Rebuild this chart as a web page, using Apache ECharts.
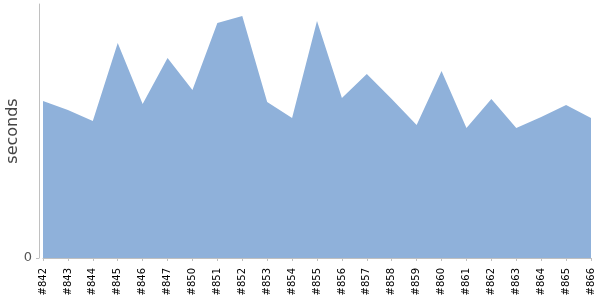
<!DOCTYPE html>
<html><head><meta charset="utf-8">
<script src="https://cdn.jsdelivr.net/npm/echarts@6/dist/echarts.min.js"></script>
<style>html,body{margin:0;padding:0;background:#fff}#c{width:600px;height:300px}</style>
</head><body><div id="c"></div>
<script>
const categories = ['#842','#843','#844','#845','#846','#847','#850','#851','#852','#853','#854','#855','#856','#857','#858','#859','#860','#861','#862','#863','#864','#865','#866'];
const seconds = [157,148,137,215,154,200,168,235,242,156,140,237,160,184,159,133,187,130,159,130,141,153,140];
const yTicks = [0];
const yMax = 254;

const chart = echarts.init(document.getElementById('c'), null, {renderer: 'canvas'});
chart.setOption({
  animation: false,
  grid: {left: 43, right: 9, top: 4, bottom: 42, containLabel: false, outerBoundsMode: 'none'},
  xAxis: {
    type: 'category', data: categories, boundaryGap: false, offset: 5,
    axisLine: {show: true, lineStyle: {color: '#c0c0c0', width: 1}},
    axisTick: {show: true, length: 3, lineStyle: {color: '#c0c0c0'}},
    axisLabel: {rotate: 90, interval: 0, margin: 5, color: '#000', fontSize: 10, fontFamily: 'DejaVu Sans'},
    splitLine: {show: false}
  },
  yAxis: {
    type: 'value', min: 0, max: yMax, offset: 4,
    name: 'seconds', nameLocation: 'middle', nameGap: 18, nameMoveOverlap: false,
    nameTextStyle: {color: '#444', fontSize: 16, fontFamily: 'DejaVu Sans'},
    axisLine: {show: true, lineStyle: {color: '#c0c0c0', width: 1}},
    axisTick: {show: true, length: 3, customValues: yTicks, lineStyle: {color: '#c0c0c0'}},
    axisLabel: {customValues: yTicks, color: '#555', fontSize: 13, fontFamily: 'DejaVu Sans', margin: 7},
    splitLine: {show: false}
  },
  series: [{
    type: 'line', data: seconds, symbol: 'none',
    lineStyle: {width: 0, color: '#8fb1da'},
    areaStyle: {color: '#8fb1da', opacity: 1},
    itemStyle: {color: '#8fb1da'}
  }]
});
</script></body></html>
